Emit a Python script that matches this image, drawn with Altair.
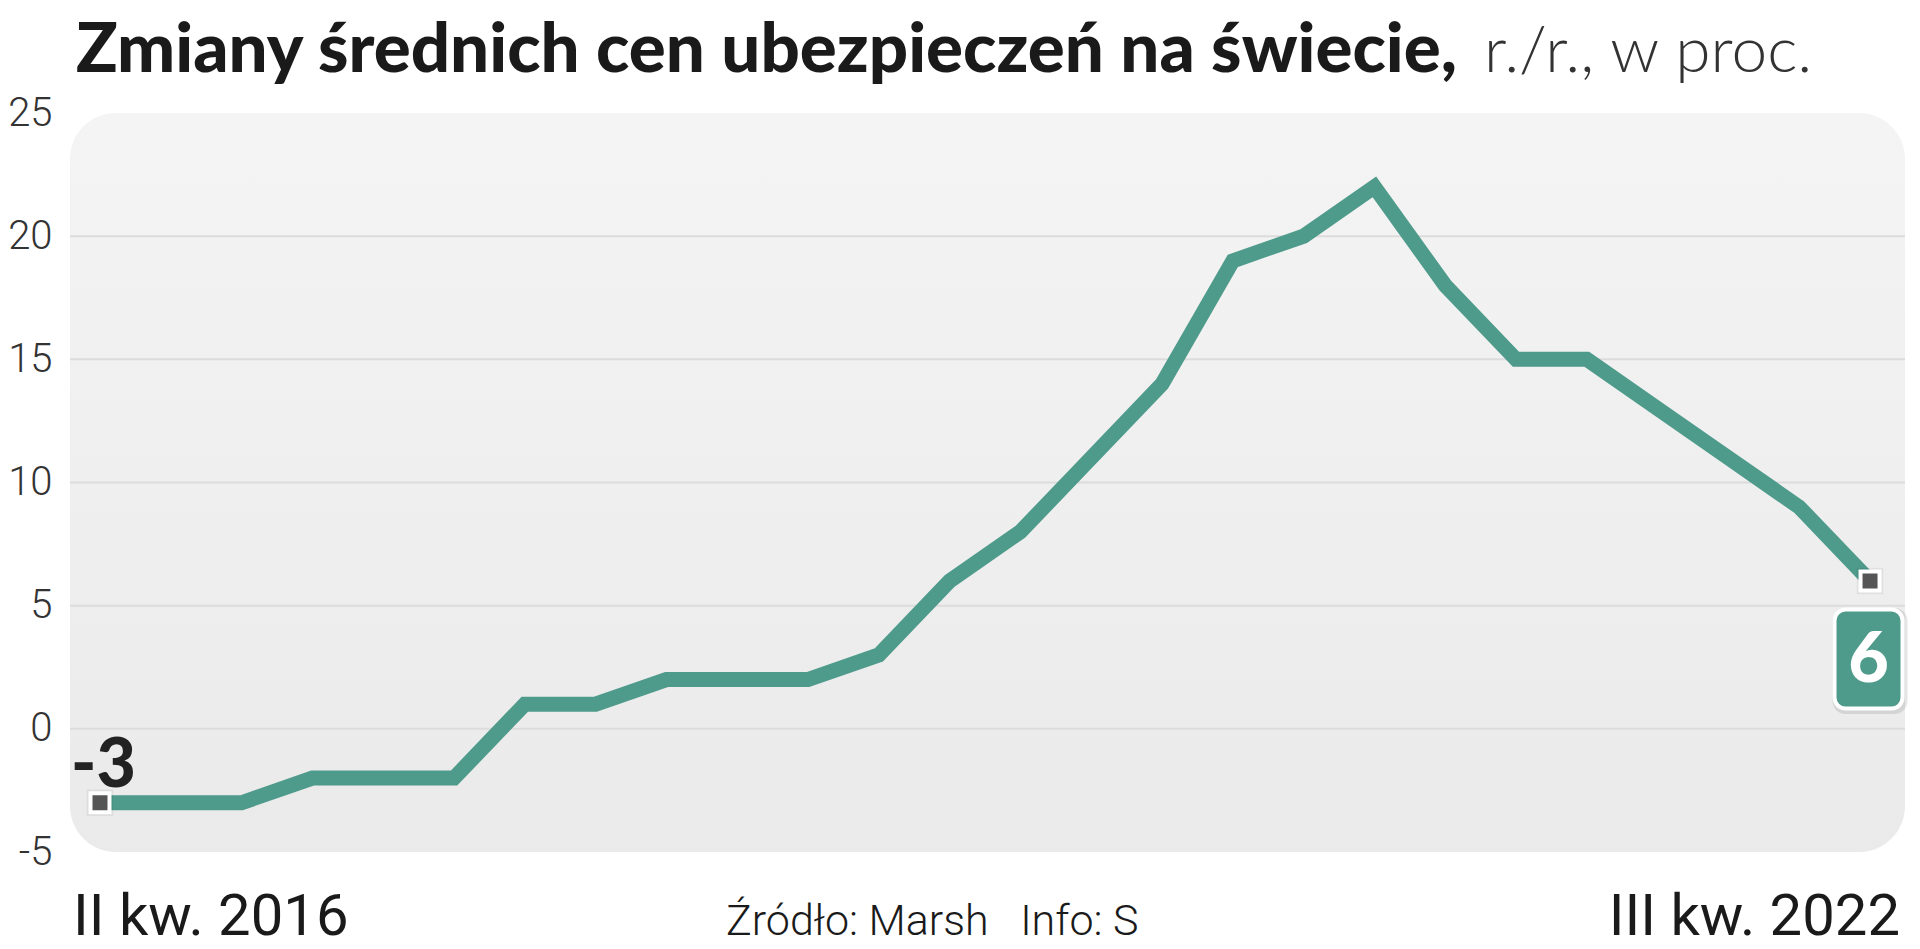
import altair as alt
import pandas as pd

# ---- data ----
quarters_first = "II kw. 2016"
quarters_last = "III kw. 2022"
values = [-3, -3, -3, -2, -2, -2, 1, 1, 2, 2, 2, 3, 6, 8, 11, 14, 19, 20, 22, 18, 15, 15, 13, 11, 9, 6]
y_ticks = [-5, 0, 5, 10, 15, 20, 25]
grid_values = [0, 5, 10, 15, 20]
title_bold = "Zmiany średnich cen ubezpieczeń na świecie,"
title_light = "r./r., w proc."
source_text = "Źródło: Marsh\u00a0\u00a0\u00a0Info: S"

df = pd.DataFrame({"idx": list(range(len(values))), "val": values})
df_end = df.iloc[[0, len(df) - 1]].reset_index(drop=True)
df_first = df.iloc[[0]]
df_last = df.iloc[[len(df) - 1]]
df_grid = pd.DataFrame({"val": grid_values})
one = pd.DataFrame({"a": [0]})

W, H = 1835, 739
TEAL = "#4E9B8B"
BOLDF = "Lato, Roboto, sans-serif"
REG = "Roboto, sans-serif"

xscale = alt.Scale(domain=[-0.4237, 25.494], nice=False, zero=False)
yscale = alt.Scale(domain=[-5, 25], nice=False, zero=False)
y_axis = alt.Axis(
    values=y_ticks, title=None, domain=False, ticks=False, grid=False,
    labelFont=REG, labelFontWeight=300, labelFontSize=40, labelColor="#333333",
    labelPadding=18, labelExpr="'' + datum.value",
)

X = alt.X("idx:Q", scale=xscale, axis=None)
Y = alt.Y("val:Q", scale=yscale, axis=y_axis)

bg = alt.Chart(one).mark_rect(
    cornerRadius=46,
    color=alt.Gradient(
        gradient="linear",
        stops=[alt.GradientStop(color="#F4F4F4", offset=0),
               alt.GradientStop(color="#EAEAEA", offset=1)],
        x1=0, x2=0, y1=0, y2=1,
    ),
).encode(x=alt.value(0), x2=alt.value(W), y=alt.value(0), y2=alt.value(H))

grid = alt.Chart(df_grid).mark_rule(color="#DCDCDC", strokeWidth=2).encode(
    y=Y, x=alt.value(0), x2=alt.value(W),
)

line = alt.Chart(df).mark_line(color=TEAL, strokeWidth=15, strokeJoin="miter", strokeCap="butt").encode(
    x=X, y=Y,
)

pts_shadow = alt.Chart(df_end).mark_square(size=700, fill="#000000", opacity=0.06, strokeWidth=0).encode(
    x=X, y=Y,
)

pts = alt.Chart(df_end).mark_square(size=361, fill="#555555", stroke="white", strokeWidth=4, opacity=1).encode(
    x=X, y=Y,
)

first_lbl = alt.Chart(df_first).transform_calculate(lbl="'' + datum.val").mark_text(
    font=BOLDF, fontWeight=900, fontSize=68, color="#222222",
    align="left", baseline="alphabetic", dx=-29, dy=-16,
).encode(x=X, y=Y, text="lbl:N")

box_shadow = alt.Chart(df_last).mark_rect(
    width=75, height=106, cornerRadius=13, fill="#000000", opacity=0.10,
    xOffset=0, yOffset=80,
).encode(x=X, y=Y)

box = alt.Chart(df_last).mark_rect(
    width=68, height=99, cornerRadius=11, fill=TEAL, stroke="white", strokeWidth=4,
    xOffset=-1.5, yOffset=78,
).encode(x=X, y=Y)

box_txt = alt.Chart(df_last).transform_calculate(lbl="'' + datum.val").mark_text(
    font=BOLDF, fontWeight=900, fontSize=70, color="white",
    align="center", baseline="middle", dx=-1.5, dy=80,
).encode(x=X, y=Y, text="lbl:N")

t_bold = alt.Chart(one).mark_text(
    text=title_bold, font=BOLDF, fontWeight=900, fontSize=69, color="#1a1a1a",
    align="left", baseline="alphabetic",
).encode(x=alt.value(6), y=alt.value(-41))

t_light = alt.Chart(one).mark_text(
    text=title_light, font=BOLDF, fontWeight=300, fontSize=64, color="#333333",
    align="left", baseline="alphabetic",
).encode(x=alt.value(1414), y=alt.value(-41))

b_left = alt.Chart(one).mark_text(
    text=quarters_first, font=REG, fontSize=58, color="#1a1a1a",
    align="left", baseline="alphabetic",
).encode(x=alt.value(3), y=alt.value(822))

b_right = alt.Chart(one).mark_text(
    text=quarters_last, font=REG, fontSize=58, color="#1a1a1a",
    align="right", baseline="alphabetic",
).encode(x=alt.value(1830), y=alt.value(822))

b_src = alt.Chart(one).mark_text(
    text=source_text, font=REG, fontWeight=300, fontSize=43, color="#1a1a1a",
    align="left", baseline="alphabetic",
).encode(x=alt.value(656), y=alt.value(822))

chart = alt.layer(
    bg, grid, line, pts_shadow, pts, first_lbl, box_shadow, box, box_txt,
    t_bold, t_light, b_left, b_right, b_src,
).properties(
    width=W, height=H,
    padding={"left": 62, "top": 105, "right": 5, "bottom": 89},
    autosize=alt.AutoSizeParams(type="none"),
    background="white",
).configure_view(stroke=None)

chart.save("out.html", embed_options={"renderer": "svg", "actions": False})
